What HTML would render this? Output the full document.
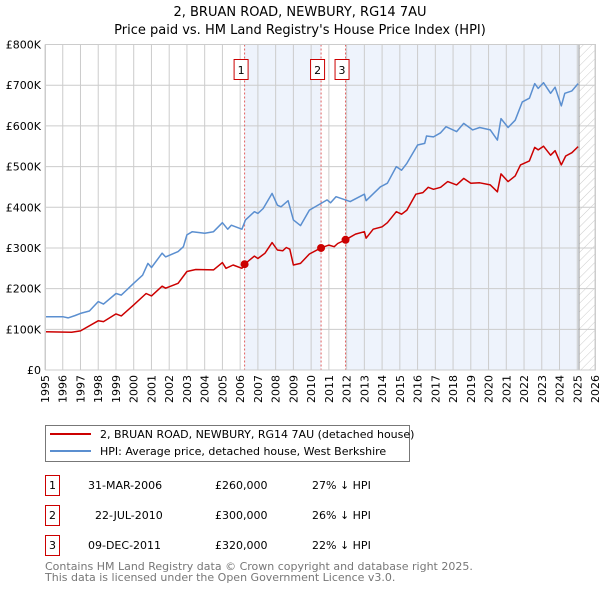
<!DOCTYPE html>
<html><head><meta charset="utf-8"><style>
body{margin:0;background:#fff;font-family:"DejaVu Sans","Liberation Sans",sans-serif;}
svg text{font-family:"DejaVu Sans","Liberation Sans",sans-serif;}
</style></head><body>
<svg id="chart" width="600" height="590" viewBox="0 0 600 590" xmlns="http://www.w3.org/2000/svg">
<defs><pattern id="hatch" width="6" height="6" patternUnits="userSpaceOnUse" patternTransform="rotate(45)"><line x1="0" y1="0" x2="0" y2="6" stroke="#ccc" stroke-width="1"/></pattern></defs>
<text x="300" y="16" text-anchor="middle" font-size="13">2, BRUAN ROAD, NEWBURY, RG14 7AU</text>
<text x="300" y="34" text-anchor="middle" font-size="13">Price paid vs. HM Land Registry's House Price Index (HPI)</text>
<g id="plot"></g>
<g>
<rect x="45.5" y="425.5" width="364" height="36" fill="#fff" stroke="#777"/>
<line x1="50" y1="434" x2="91" y2="434" stroke="#cc0000" stroke-width="2"/>
<text x="100" y="438" font-size="11">2, BRUAN ROAD, NEWBURY, RG14 7AU (detached house)</text>
<line x1="50" y1="451" x2="91" y2="451" stroke="#5b8fd0" stroke-width="2"/>
<text x="100" y="455" font-size="11">HPI: Average price, detached house, West Berkshire</text>
</g>
<g font-size="11">
<rect x="45.5" y="475.5" width="14" height="20" fill="#fff" stroke="#cc0000"/><text x="52.5" y="489" text-anchor="middle">1</text>
<text x="88" y="489">31-MAR-2006</text><text x="215" y="489">£260,000</text><text x="312" y="489">27% ↓ HPI</text>
<rect x="45.5" y="505.5" width="14" height="20" fill="#fff" stroke="#cc0000"/><text x="52.5" y="519" text-anchor="middle">2</text>
<text x="95" y="519">22-JUL-2010</text><text x="215" y="519">£300,000</text><text x="312" y="519">26% ↓ HPI</text>
<rect x="45.5" y="535.5" width="14" height="20" fill="#fff" stroke="#cc0000"/><text x="52.5" y="549" text-anchor="middle">3</text>
<text x="88" y="549">09-DEC-2011</text><text x="215" y="549">£320,000</text><text x="312" y="549">22% ↓ HPI</text>
</g>
<text x="45" y="570" font-size="11" fill="#777">Contains HM Land Registry data © Crown copyright and database right 2025.</text>
<text x="45" y="581" font-size="11" fill="#777">This data is licensed under the Open Government Licence v3.0.</text>
</svg>
<script>
const hpiYears=[1995,1996,1996.3,1996.7,1997,1997.5,1998,1998.3,1999,1999.3,2000,2000.5,2000.8,2001,2001.6,2001.8,2002.5,2002.8,2003,2003.3,2004,2004.5,2005,2005.3,2005.5,2006.1,2006.3,2006.8,2007,2007.3,2007.8,2008.1,2008.3,2008.7,2009,2009.4,2009.9,2010.5,2010.9,2011.1,2011.4,2012.2,2013,2013.1,2013.9,2014.3,2014.8,2015.1,2015.4,2016,2016.4,2016.5,2016.9,2017.3,2017.6,2018.2,2018.6,2019.1,2019.5,2020.1,2020.5,2020.7,2021.1,2021.5,2021.9,2022.3,2022.6,2022.8,2023.1,2023.5,2023.75,2024.1,2024.3,2024.7,2025.05];
const hpiValues=[131,131,128,134,139,145,168,162,188,184,213,233,262,252,287,278,291,303,332,340,336,340,362,346,356,346,369,389,385,397,434,405,401,416,369,355,393,408,418,411,426,414,432,416,450,459,500,491,508,553,557,575,573,583,598,586,606,590,596,590,565,618,596,614,659,668,704,692,706,680,695,649,680,686,704];
const ppYears=[1995,1996.5,1997,1998,1998.3,1999,1999.3,2000,2000.7,2001,2001.6,2001.8,2002.5,2003,2003.5,2004.5,2005,2005.2,2005.6,2006.1,2006.25,2006.8,2007,2007.4,2007.8,2008.1,2008.4,2008.6,2008.8,2009,2009.4,2009.9,2010.55,2011,2011.3,2011.5,2011.94,2012.5,2013,2013.1,2013.5,2014,2014.3,2014.8,2015.1,2015.4,2015.9,2016.3,2016.6,2016.9,2017.3,2017.7,2018.2,2018.6,2019,2019.5,2020.1,2020.5,2020.7,2021.1,2021.5,2021.8,2022.3,2022.6,2022.8,2023.1,2023.5,2023.75,2024.1,2024.35,2024.7,2025.05];
const ppValues=[94,93,96,121,119,138,133,160,188,182,206,201,213,242,247,246,264,250,258,250,260,280,274,287,313,295,293,301,297,258,262,285,300,307,303,311,320,334,340,324,346,352,362,389,383,393,432,436,449,444,449,463,455,471,459,460,455,438,482,463,477,504,514,547,541,550,528,539,504,526,534,549];
const saleYears=[2006.25,2010.56,2011.94];
const saleValues=[260,300,320];
const saleLabels=["1","2","3"];
const yTicks=[0,100,200,300,400,500,600,700,800];
const yTickLabels=["£0","£100K","£200K","£300K","£400K","£500K","£600K","£700K","£800K"];
const NS="http://www.w3.org/2000/svg";
const X0=45,X1=595,Y0=370,Y1=44.5;
const x=y=>X0+(y-1995)/(2026-1995)*(X1-X0);
const yv=v=>Y0-v/800*(Y0-Y1);
const g=document.getElementById('plot');
function mk(t,a,p){const e=document.createElementNS(NS,t);for(const k in a)e.setAttribute(k,a[k]);(p||g).appendChild(e);return e;}
// shading
let s1=mk('rect',{x:x(saleYears[0]),y:Y1,width:x(saleYears[1])-x(saleYears[0]),height:Y0-Y1,fill:'#eef3fc'});


let s2=mk('rect',{x:x(saleYears[2]),y:Y1,width:x(2025.1)-x(saleYears[2]),height:Y0-Y1,fill:'#eef3fc'});


let h=mk('rect',{x:x(2025.1),y:Y1,width:X1-x(2025.1),height:Y0-Y1,fill:'url(#hatch)'});


// grid
for(let yr=1995;yr<=2026;yr++){
 const l=mk('line',{x1:x(yr),x2:x(yr),y1:Y1,y2:Y0,stroke:'#ccc','stroke-width':1});
 
 
 const t=mk('text',{x:0,y:0,'font-size':11,'text-anchor':'end',transform:`translate(${x(yr)+4},${Y0+5}) rotate(-90)`});
 t.textContent=yr;
 
 
}
yTicks.forEach((v,i)=>{
 const l=mk('line',{x1:X0,x2:X1,y1:yv(v),y2:yv(v),stroke:'#ccc','stroke-width':1});
 
 
 const t=mk('text',{x:X0-4,y:yv(v)+4,'font-size':11,'text-anchor':'end'});
 t.textContent=yTickLabels[i];
 
 
});
let nl=mk('line',{x1:x(2025.1),x2:x(2025.1),y1:Y1,y2:Y0,stroke:'#999','stroke-width':1});


// sale vlines and labels
saleYears.forEach((sy,i)=>{
 const l=mk('line',{x1:x(sy),x2:x(sy),y1:Y1,y2:Y0,stroke:'#e06060','stroke-width':1,'stroke-dasharray':'2,2'});
 
 
 const r=mk('rect',{x:x(sy)-10.5,y:59.5,width:14,height:20,fill:'#fff',stroke:'#cc0000'});
 
 
 const t=mk('text',{x:x(sy)-3.5,y:74,'font-size':11,'text-anchor':'middle'});
 t.textContent=saleLabels[i];
 
 
});
// lines
const pts=(xs,vs)=>xs.map((a,i)=>x(a).toFixed(1)+','+yv(vs[i]).toFixed(1)).join(' ');
let hl=mk('polyline',{points:pts(hpiYears,hpiValues),fill:'none',stroke:'#5b8fd0','stroke-width':1.5,'stroke-linejoin':'round'});


let pl=mk('polyline',{points:pts(ppYears,ppValues),fill:'none',stroke:'#cc0000','stroke-width':1.5,'stroke-linejoin':'round'});


saleYears.forEach((sy,i)=>{
 const c=mk('circle',{cx:x(sy),cy:yv(saleValues[i]),r:4,fill:'#cc0000'});
 
 
});
let fr=mk('rect',{x:X0+0.5,y:Y1,width:X1-X0,height:Y0-Y1,fill:'none',stroke:'#ccc'});


</script>
</body></html>
